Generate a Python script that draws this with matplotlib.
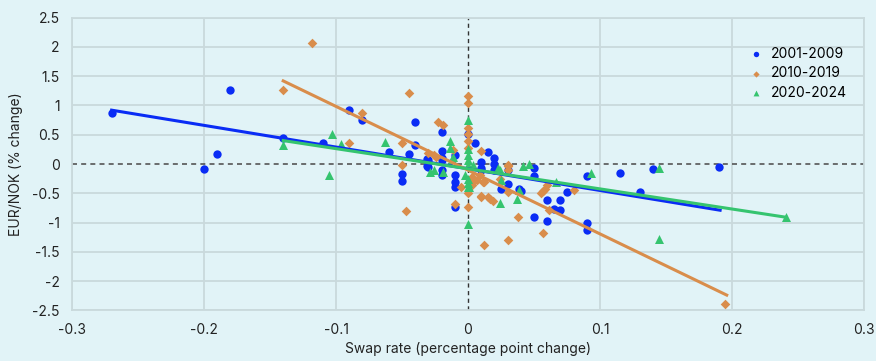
import matplotlib
matplotlib.use("Agg")
import matplotlib.pyplot as plt

# Data
blue_x = [-0.27, -0.18, -0.20, -0.19, -0.14, -0.11, -0.09, -0.08, -0.04, -0.02, -0.06, -0.045, -0.04,
          -0.05, -0.05, -0.02, 0.0, 0.005, 0.015, 0.02, 0.02, 0.01, 0.05, 0.05, 0.09, 0.115, 0.14, 0.19,
          0.13, 0.09, 0.09, 0.06, 0.06, 0.07, 0.07, 0.065, 0.075, -0.03, -0.03, -0.02, -0.02, -0.02,
          -0.01, -0.01, -0.01, -0.01, -0.01, 0.01, 0.02, 0.03, 0.025, 0.04, 0.05,
          -0.02, -0.031, -0.031, 0.01, 0.03, 0.039]
blue_y = [0.87, 1.27, -0.08, 0.17, 0.45, 0.36, 0.93, 0.76, 0.71, 0.54, 0.20, 0.17, 0.32,
          -0.17, -0.29, 0.23, 0.52, 0.36, 0.20, 0.10, 0.0, 0.03, -0.06, -0.20, -0.20, -0.16, -0.085, -0.05,
          -0.47, -1.01, -1.13, -0.62, -0.97, -0.62, -0.79, -0.77, -0.47, 0.07, -0.05, 0.07, -0.10, -0.19,
          0.15, -0.19, -0.30, -0.39, -0.73, -0.10, -0.10, -0.34, -0.42, -0.46, -0.90,
          0.11, 0.08, -0.03, -0.07, -0.10, -0.42]

orange_x = [-0.14, -0.118, -0.045, -0.08, -0.09, -0.05, -0.023, -0.019, 0.0, 0.0, 0.0, 0.0, 0.0, 0.0,
            0.01, -0.05, -0.03, -0.026, -0.011, 0.03, -0.047, -0.01, 0.0, 0.012, 0.03, 0.01, 0.017, 0.019,
            0.038, 0.057, 0.055, 0.057, 0.061, 0.06, 0.08, 0.195, -0.005, 0.0, 0.003, 0.007, 0.011, 0.003,
            0.01, 0.015, 0.024, 0.03, 0.03,
            -0.024, 0.012, 0.009, 0.004, 0.058, 0.03]
orange_y = [1.26, 2.07, 1.22, 0.88, 0.36, 0.36, 0.71, 0.67, 1.17, 1.05, 0.61, 0.51, 0.39, 0.28,
            0.22, -0.01, 0.19, 0.15, 0.24, -0.02, -0.80, -0.68, -0.73, -1.39, -1.30, -0.55, -0.59, -0.63,
            -0.91, -1.18, -0.50, -0.46, -0.79, -0.36, -0.44, -2.39, -0.39, -0.50, -0.22, -0.27, -0.31, -0.36,
            -0.56, -0.56, -0.25, -0.47, -0.03,
            0.12, -0.30, -0.19, -0.30, -0.42, -0.10]

green_x = [-0.14, -0.103, -0.096, -0.105, -0.063, -0.014, -0.014, 0.0, -0.029, -0.026, -0.019, 0.0, 0.0,
           0.0, 0.0, 0.023, 0.042, 0.046, -0.011, 0.093, 0.145, 0.241, 0.145, 0.067, 0.0, -0.002, 0.0,
           0.001, 0.024, 0.037, 0.039, 0.025, -0.012, 0.0,
           0.024, 0.004, 0.0]
green_y = [0.32, 0.51, 0.35, -0.18, 0.38, 0.40, 0.28, 0.76, -0.14, -0.11, -0.13, 0.25, 0.15,
           0.07, -0.02, -0.07, -0.03, 0.0, 0.12, -0.15, -0.06, -0.90, -1.29, -0.31, -1.03, -0.19, -0.33,
           -0.39, -0.66, -0.59, -0.44, -0.27, 0.08, -0.25,
           -0.10, -0.02, -0.40]

# Trend line end points
blue_trend_x = [-0.27, 0.191]
blue_trend_y = [0.92, -0.79]
orange_trend_x = [-0.14, 0.196]
orange_trend_y = [1.42, -2.24]
green_trend_x = [-0.14, 0.241]
green_trend_y = [0.40, -0.91]

labels = ["2001-2009", "2010-2019", "2020-2024"]
x_ticks = [-0.3, -0.2, -0.1, 0, 0.1, 0.2, 0.3]
x_tick_labels = ["-0.3", "-0.2", "-0.1", "0", "0.1", "0.2", "0.3"]
y_ticks = [-2.5, -2, -1.5, -1, -0.5, 0, 0.5, 1, 1.5, 2, 2.5]
y_tick_labels = ["-2.5", "-2", "-1.5", "-1", "-0.5", "0", "0.5", "1", "1.5", "2", "2.5"]

# Styling
bg = "#E1F3F7"
grid_col = "#C9D9DC"
c_blue = "#0A2CF5"
c_orange = "#D98D4B"
c_green = "#35C46F"
plt.rcParams["font.family"] = ["Inter", "DejaVu Sans"]

fig = plt.figure(figsize=(8.76, 3.61), dpi=100, facecolor=bg)
ax = fig.add_axes([0.0822, 0.1404, 0.9041, 0.8106])
ax.set_facecolor(bg)

# Grid, drawn as lines so the zero lines can be dashed
for xv in x_ticks:
    if xv == 0:
        continue
    ax.axvline(xv, color=grid_col, lw=1.3, zorder=0)
for yv in y_ticks:
    if yv == 0:
        continue
    ax.axhline(yv, color=grid_col, lw=1.3, zorder=0)
ax.axvline(0, color="#333333", lw=1.0, ls=(0, (3, 2.5)), zorder=1)
ax.axhline(0, color="#555555", lw=1.2, ls=(0, (3, 2.5)), zorder=1)

# Scatter points
ax.scatter(blue_x, blue_y, marker="o", s=36, color=c_blue, lw=0, zorder=3, label=labels[0])
ax.scatter(orange_x, orange_y, marker="D", s=24, color=c_orange, lw=0, zorder=3, label=labels[1])
ax.scatter(green_x, green_y, marker="^", s=42, color=c_green, lw=0, zorder=3, label=labels[2])

# Trend lines
ax.plot(blue_trend_x, blue_trend_y, color=c_blue, lw=2.2, zorder=4)
ax.plot(orange_trend_x, orange_trend_y, color=c_orange, lw=2.2, zorder=4)
ax.plot(green_trend_x, green_trend_y, color=c_green, lw=2.2, zorder=4)

ax.set_xlim(-0.3, 0.3)
ax.set_ylim(-2.5, 2.5)
ax.set_xticks(x_ticks)
ax.set_xticklabels(x_tick_labels)
ax.set_yticks(y_ticks)
ax.set_yticklabels(y_tick_labels)
ax.tick_params(length=0, labelsize=10, colors="#222222", pad=9)
for s in ax.spines.values():
    s.set_color(grid_col)
    s.set_linewidth(1.3)

ax.set_xlabel("Swap rate (percentage point change)", fontsize=10, color="#222222", labelpad=4)
ax.set_ylabel("EUR/NOK (% change)", fontsize=10, color="#222222", labelpad=6)

ax.legend(loc="upper right", bbox_to_anchor=(0.985, 0.92), frameon=False, fontsize=10,
          handletextpad=0.05, labelspacing=0.4, markerscale=0.65, borderaxespad=0)

fig.savefig("out.png", dpi=100, facecolor=bg)
